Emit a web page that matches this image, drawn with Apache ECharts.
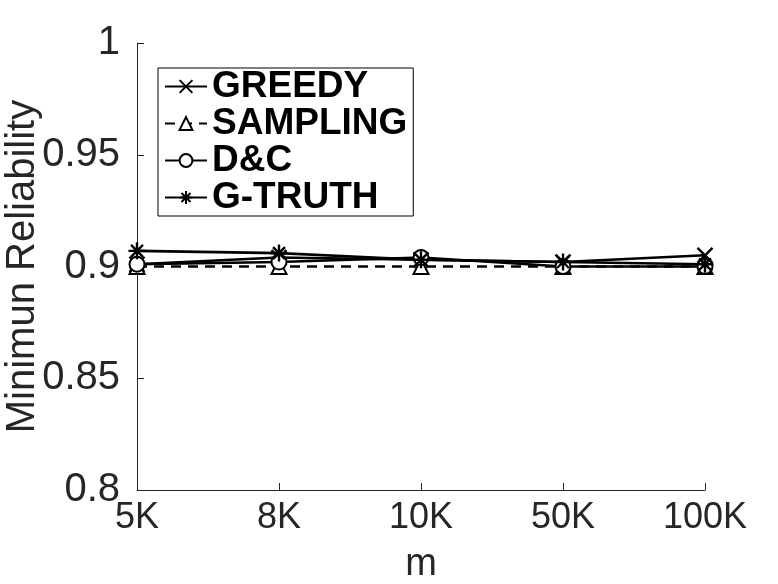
<!DOCTYPE html>
<html><head><meta charset="utf-8">
<script src="https://cdn.jsdelivr.net/npm/echarts@6/dist/echarts.min.js"></script>
<style>html,body{margin:0;padding:0;background:#fff}#c{width:778px;height:584px}</style>
</head><body><div id="c"></div>
<script>
const categories = ['5K', '8K', '10K', '50K', '100K'];
const greedy   = [0.901, 0.904, 0.903, 0.902, 0.905];
const sampling = [0.900, 0.900, 0.900, 0.900, 0.900];
const dc       = [0.901, 0.902, 0.904, 0.900, 0.900];
const gtruth   = [0.907, 0.906, 0.903, 0.902, 0.901];
const seriesNames = ['GREEDY', 'SAMPLING', 'D&C', 'G-TRUTH'];
const yTicks = [0.8, 0.85, 0.9, 0.95, 1];

const FONT = "'Liberation Sans', Arial, Helvetica, sans-serif";
const crossPath = 'path://M0,0L10,10M10,0L0,10';
const starPath = 'path://M5,0L5,10M0,5L10,5M1.5,1.5L8.5,8.5M8.5,1.5L1.5,8.5';

function mk(name, data, symbol, size, dashed) {
  const isPath = symbol.startsWith('path');
  return {
    name, type: 'line', data, symbol, symbolSize: size,
    showAllSymbol: true,
    lineStyle: { color: '#000', width: 2.6, type: dashed ? [10, 7] : 'solid' },
    itemStyle: { color: isPath ? 'rgba(0,0,0,0)' : '#000', borderColor: '#000', borderWidth: 2.4 },
    emphasis: { disabled: true }
  };
}

const chart = echarts.init(document.getElementById('c'), null, { renderer: 'canvas' });
chart.setOption({
  animation: false,
  backgroundColor: '#fff',
  grid: { left: 137, right: 73, top: 43, bottom: 94, containLabel: false, outerBoundsMode: 'none' },
  legend: {
    orient: 'vertical', left: 158, top: 68,
    backgroundColor: '#fff', borderColor: '#000', borderWidth: 1,
    padding: [0, 6, 0, 6],
    itemWidth: 42, itemHeight: 16, itemGap: 0,
    textStyle: { fontFamily: FONT, fontWeight: 'bold', fontSize: 37, lineHeight: 37, color: '#000' },
    data: seriesNames
  },
  xAxis: {
    type: 'category', data: categories, boundaryGap: false,
    name: 'm', nameLocation: 'middle', nameGap: 56, nameMoveOverlap: false,
    nameTextStyle: { fontFamily: FONT, fontSize: 38, color: '#262626' },
    axisLine: { lineStyle: { color: '#262626', width: 1 } },
    axisTick: { inside: true, length: 7, alignWithLabel: true, lineStyle: { color: '#262626' } },
    axisLabel: { fontFamily: FONT, fontSize: 36, color: '#262626', margin: 10 },
    splitLine: { show: false }
  },
  yAxis: {
    type: 'value', min: 0.8, max: 1, interval: 0.05,
    name: 'Minimun Reliability', nameLocation: 'middle', nameGap: 94, nameMoveOverlap: false,
    nameTextStyle: { fontFamily: FONT, fontSize: 40, color: '#262626' },
    axisLine: { show: true, lineStyle: { color: '#262626', width: 1 } },
    axisTick: { show: true, inside: true, length: 7, lineStyle: { color: '#262626' } },
    axisLabel: { fontFamily: FONT, fontSize: 40, color: '#262626', margin: 17,
      formatter: v => { const t = yTicks.find(x => Math.abs(x - v) < 1e-9); return String(+(t ?? v).toFixed(2)); } },
    splitLine: { show: false }
  },
  series: [
    mk(seriesNames[0], greedy, crossPath, 15, false),
    mk(seriesNames[1], sampling, 'emptyTriangle', 15, true),
    mk(seriesNames[2], dc, 'emptyCircle', 15, false),
    mk(seriesNames[3], gtruth, starPath, 17, false)
  ]
});
</script></body></html>
